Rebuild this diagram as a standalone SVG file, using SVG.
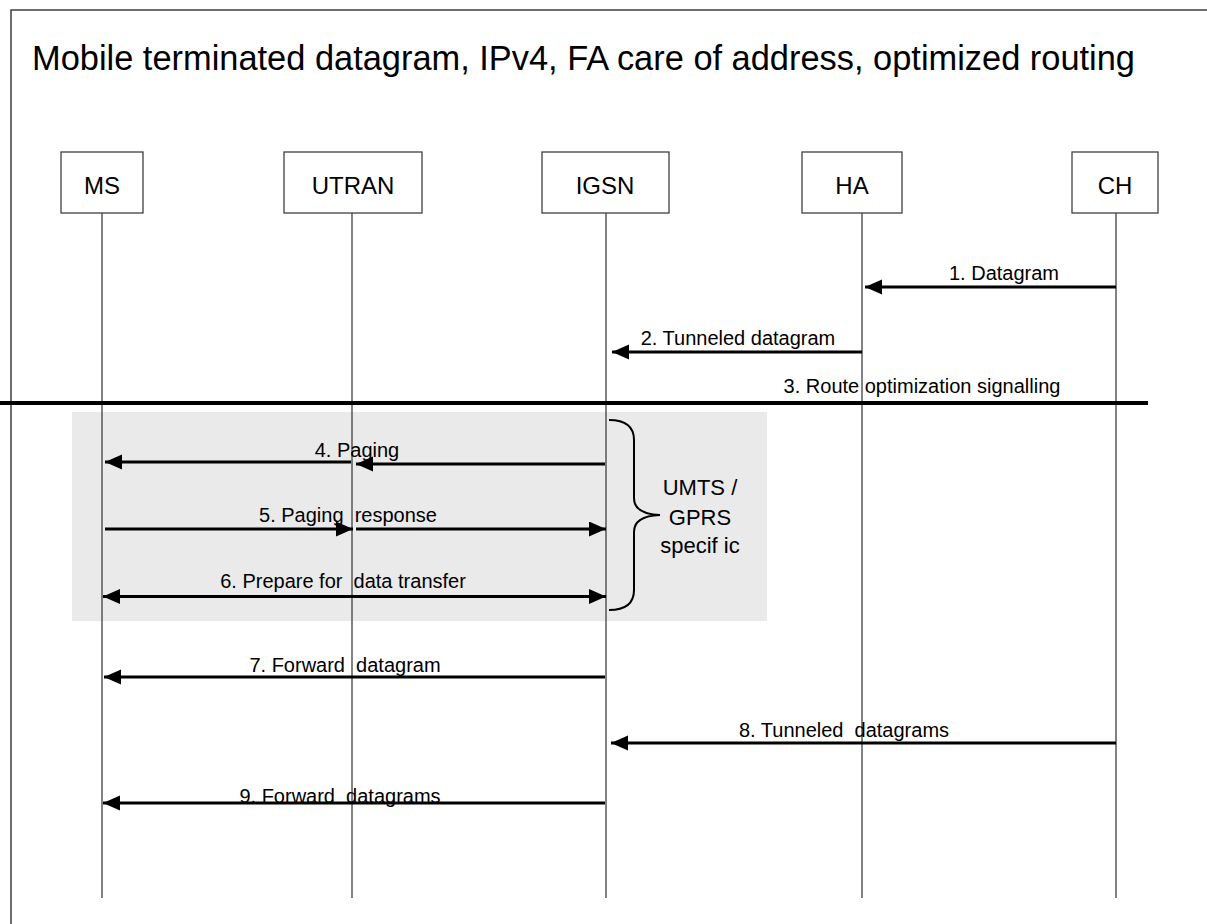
<svg xmlns="http://www.w3.org/2000/svg" width="1207" height="924" viewBox="0 0 1207 924">
<style>
text{font-family:"Liberation Sans",Arial,sans-serif;fill:#000}
.frame{fill:none;stroke:#404040;stroke-width:1.5}
.box{fill:#fff;stroke:#404040;stroke-width:1.3}
.life{stroke:#404040;stroke-width:1.3}
.msg{stroke:#000;stroke-width:3;fill:none}
.lbl{font-size:20px;text-anchor:middle;white-space:pre}
.name{font-size:24px;text-anchor:middle}
.brace{fill:none;stroke:#000;stroke-width:2}
</style>
<defs>
<marker id="ah" markerUnits="userSpaceOnUse" markerWidth="18" markerHeight="16" refX="17" refY="7.5" orient="auto-start-reverse" viewBox="0 0 18 16">
<path d="M0,0 L17,7.5 L0,15 z" fill="#000"/>
</marker>
</defs>
<rect class="frame" x="11" y="10" width="1220" height="940"/>
<text x="32" y="70" font-size="34.4">Mobile terminated datagram, IPv4, FA care of address, optimized routing</text>
<rect x="72" y="412" width="695" height="209" fill="#EAEAEA"/>
<g id="lifelines">
<line class="life" x1="102" y1="213" x2="102" y2="898"/>
<line class="life" x1="352" y1="213" x2="352" y2="898"/>
<line class="life" x1="606" y1="213" x2="606" y2="898"/>
<line class="life" x1="862" y1="213" x2="862" y2="898"/>
<line class="life" x1="1116" y1="213" x2="1116" y2="898"/>
</g>
<g id="MS"><rect class="box" x="61" y="152" width="82" height="61"/><text class="name" x="102" y="194">MS</text></g>
<g id="UTRAN"><rect class="box" x="284" y="152" width="138" height="61"/><text class="name" x="353" y="194">UTRAN</text></g>
<g id="IGSN"><rect class="box" x="542" y="152" width="127" height="61"/><text class="name" x="605" y="194">IGSN</text></g>
<g id="HA"><rect class="box" x="802" y="152" width="100" height="61"/><text class="name" x="852" y="194">HA</text></g>
<g id="CH"><rect class="box" x="1072" y="152" width="86" height="61"/><text class="name" x="1115" y="194">CH</text></g>
<g id="connectors">
<line class="msg" x1="1116" y1="287" x2="865" y2="287" marker-end="url(#ah)"/>
<line class="msg" x1="862" y1="352" x2="612" y2="352" marker-end="url(#ah)"/>
<line x1="0" y1="403" x2="1148" y2="403" stroke="#000" stroke-width="4"/>
<line class="msg" x1="605" y1="464" x2="356" y2="464" marker-end="url(#ah)"/>
<line class="msg" x1="351" y1="462" x2="105" y2="462" marker-end="url(#ah)"/>
<line class="msg" x1="105" y1="529" x2="353" y2="529" marker-end="url(#ah)"/>
<line class="msg" x1="356" y1="529" x2="606" y2="529" marker-end="url(#ah)"/>
<line class="msg" x1="103" y1="596.5" x2="606" y2="596.5" marker-start="url(#ah)" marker-end="url(#ah)"/>
<line class="msg" x1="605" y1="677" x2="104" y2="677" marker-end="url(#ah)"/>
<line class="msg" x1="1116" y1="743" x2="611" y2="743" marker-end="url(#ah)"/>
<line class="msg" x1="605" y1="803" x2="103" y2="803" marker-end="url(#ah)"/>
<path class="brace" d="M609,420 Q634,420 634,440 L634,498 Q634,514 660,515 Q634,516 634,532 L634,590 Q634,610 609,610"/>
</g>
<g id="labels">
<text class="lbl" x="1004" y="280">1. Datagram</text>
<text class="lbl" x="738" y="345">2. Tunneled datagram</text>
<text class="lbl" x="922" y="393">3. Route optimization signalling</text>
<text class="lbl" x="357" y="457">4. Paging</text>
<text class="lbl" x="348" y="522">5. Paging  response</text>
<text class="lbl" x="343" y="588">6. Prepare for  data transfer</text>
<text class="lbl" x="345" y="672">7. Forward  datagram</text>
<text class="lbl" x="844" y="737">8. Tunneled  datagrams</text>
<text class="lbl" x="340" y="803">9. Forward  datagrams</text>
<text x="700" y="495" font-size="22" text-anchor="middle">UMTS /</text>
<text x="700" y="525" font-size="22" text-anchor="middle">GPRS</text>
<text x="700" y="553" font-size="22" text-anchor="middle">specif ic</text>
</g>
</svg>
